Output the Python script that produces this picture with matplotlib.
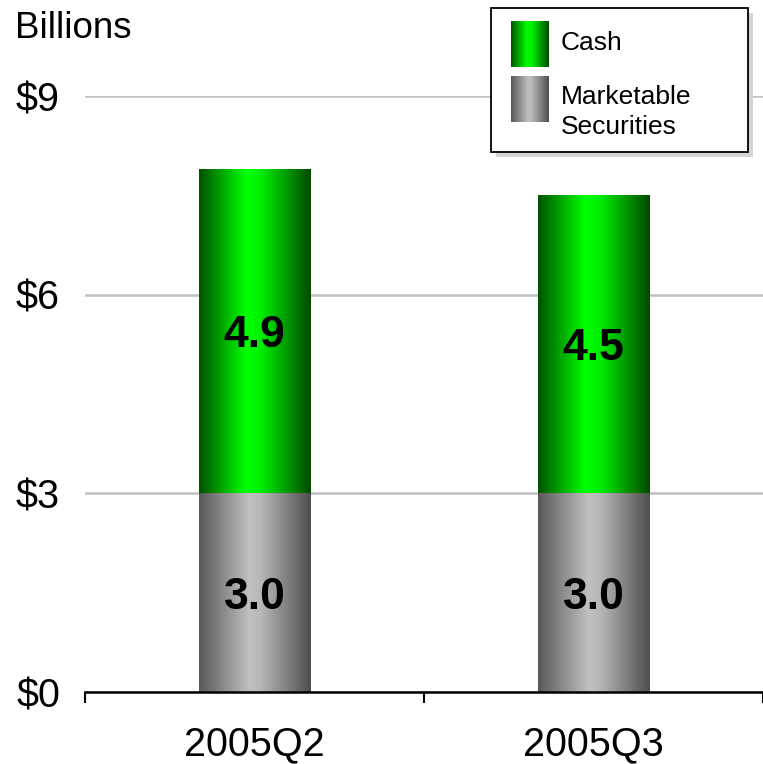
import numpy as np
import matplotlib.pyplot as plt
from matplotlib.colors import LinearSegmentedColormap
from matplotlib.patches import Rectangle

plt.rcParams['font.family'] = ['Liberation Sans', 'DejaVu Sans']

quarters = ['2005Q2', '2005Q3']
securities = [3.0, 3.0]
cash = [4.9, 4.5]
yticks = [0, 3, 6, 9]
ytick_labels = ['$0', '$3', '$6', '$9']

green_cm = LinearSegmentedColormap.from_list(
    'g', [(0, '#005200'), (0.42, '#00ff00'), (0.55, '#00f000'), (1, '#004a00')])
gray_cm = LinearSegmentedColormap.from_list(
    'k', [(0, '#585858'), (0.45, '#c0c0c0'), (0.55, '#b8b8b8'), (1, '#4e4e4e')])
grad = np.linspace(0, 1, 256).reshape(1, -1)


def gradient_fill(ax, patch, cmap):
    x, y = patch.get_xy()
    w, h = patch.get_width(), patch.get_height()
    im = ax.imshow(grad, cmap=cmap, aspect='auto', extent=(x, x + w, y, y + h),
                   interpolation='bilinear', zorder=3)
    im.set_clip_path(patch)


fig = plt.figure(figsize=(7.63, 7.64), dpi=100)
ax = fig.add_axes([85 / 763, 1 - 692 / 764, 678 / 763, (692 - 96) / 764])

x = np.arange(len(quarters))
width = 0.33
b1 = ax.bar(x, securities, width, color='none', edgecolor='none', zorder=3)
b2 = ax.bar(x, cash, width, bottom=securities, color='none', edgecolor='none', zorder=3)
for p in b1:
    gradient_fill(ax, p, gray_cm)
for p in b2:
    gradient_fill(ax, p, green_cm)

for i in range(len(quarters)):
    ax.text(x[i], securities[i] / 2, f'{securities[i]:.1f}', ha='center',
            va='center_baseline', fontsize=32, fontweight='bold', zorder=5)
    ax.text(x[i], securities[i] + cash[i] / 2, f'{cash[i]:.1f}', ha='center',
            va='center_baseline', fontsize=32, fontweight='bold', zorder=5)

ax.set_xlim(-0.5, 1.5)
ax.set_ylim(0, 9)
ax.set_yticks(yticks)
ax.set_yticklabels(ytick_labels, fontsize=28.5)
ax.tick_params(axis='y', length=0, pad=18)
ax.set_xticks(x)
ax.set_xticklabels(quarters, fontsize=28.5)
ax.set_xticks([-0.5, 0.5, 1.5], minor=True)
ax.tick_params(axis='x', which='major', length=0, pad=24)
ax.tick_params(axis='x', which='minor', length=8, width=1.5, direction='out')
ax.grid(axis='y', color='#c0c0c0', linewidth=1.8, zorder=0)
ax.set_axisbelow(True)
for s in ['left', 'right', 'top']:
    ax.spines[s].set_visible(False)
ax.spines['bottom'].set_linewidth(1.8)
ax.spines['bottom'].set_zorder(4)

fig.text(15 / 763, 1 - 38 / 764, 'Billions', fontsize=26.5, va='baseline')

# legend box drawn in pixel coordinates
lax = fig.add_axes([0, 0, 1, 1], zorder=10)
lax.axis('off')
lax.add_patch(Rectangle((496, 13), 257, 144, facecolor='#d4d4d4', edgecolor='none', zorder=1))
lax.add_patch(Rectangle((491, 8), 257, 144, facecolor='white', edgecolor='black',
                        linewidth=1.3, zorder=2))
for (y0, cm) in [(21, green_cm), (76, gray_cm)]:
    lax.imshow(grad, cmap=cm, aspect='auto', extent=(511, 549, y0 + 46, y0),
               interpolation='bilinear', zorder=3)
lax.set_xlim(0, 763)
lax.set_ylim(764, 0)
lax.text(561, 43, 'Cash', fontsize=19, va='center', zorder=4)
lax.text(561, 112, 'Marketable\nSecurities', fontsize=19, va='center',
         linespacing=1.3, zorder=4)

fig.savefig('out.png', dpi=100)
